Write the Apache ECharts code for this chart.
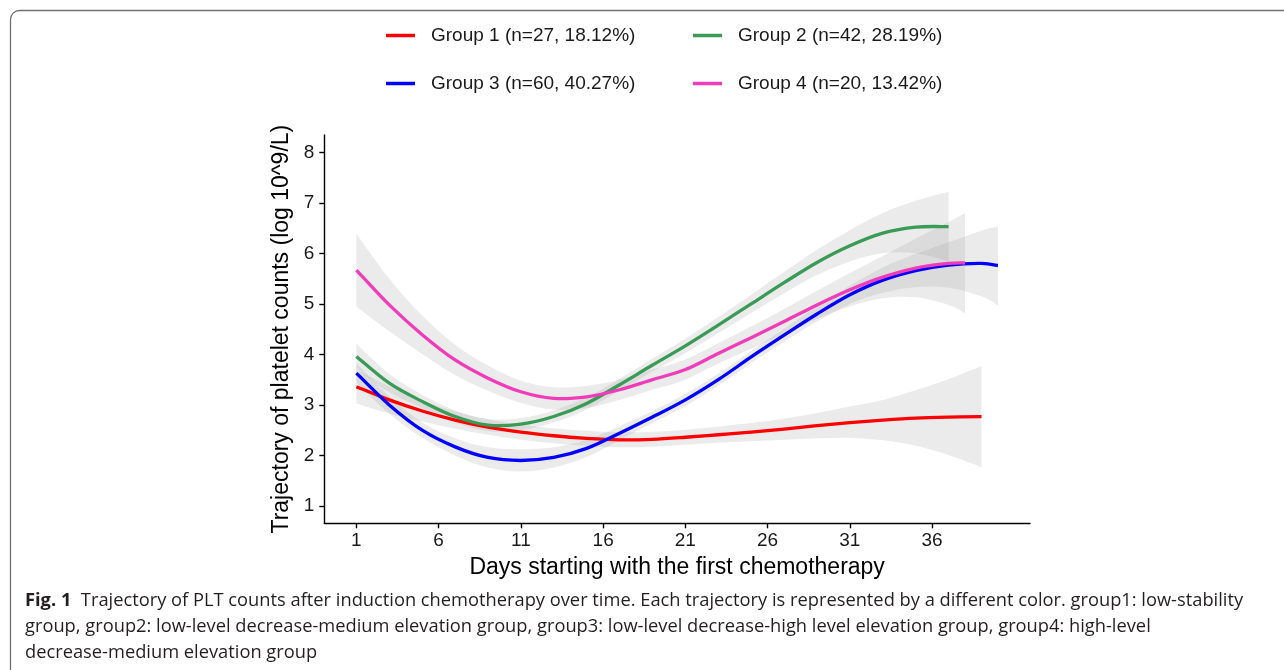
<!DOCTYPE html>
<html><head><meta charset="utf-8">
<script src="https://cdn.jsdelivr.net/npm/echarts@6/dist/echarts.min.js"></script>
<style>html,body{margin:0;padding:0;background:#fff}#c{width:1284px;height:670px}</style>
</head><body><div id="c"></div><script>
// ---------- data ----------
const groupNames = ['Group 1 (n=27, 18.12%)','Group 2 (n=42, 28.19%)','Group 3 (n=60, 40.27%)','Group 4 (n=20, 13.42%)'];

const daysG1  = [1,3,5,7,9,11,13,15,17,19,21,23,25,27,29,31,33,35,37,39];
const fitG1   = [3.36,3.10,2.88,2.70,2.56,2.46,2.39,2.34,2.31,2.32,2.36,2.41,2.46,2.52,2.59,2.65,2.70,2.74,2.76,2.77];
const upperG1 = [3.69,3.37,3.09,2.87,2.71,2.61,2.54,2.49,2.46,2.47,2.51,2.57,2.64,2.73,2.84,2.97,3.10,3.29,3.51,3.77];
const lowerG1 = [3.03,2.83,2.67,2.53,2.41,2.31,2.24,2.19,2.16,2.17,2.21,2.25,2.28,2.31,2.34,2.35,2.30,2.19,2.01,1.77];

const daysG2  = [1,3,5,7,9,11,13,15,17,19,21,23,25,27,29,31,33,35,37];
const fitG2   = [3.96,3.43,3.07,2.77,2.60,2.62,2.77,3.03,3.40,3.79,4.17,4.58,5.00,5.42,5.82,6.15,6.40,6.52,6.53];
const upperG2 = [4.21,3.61,3.20,2.89,2.72,2.74,2.89,3.15,3.52,3.92,4.31,4.74,5.18,5.63,6.07,6.46,6.80,7.04,7.22];
const lowerG2 = [3.71,3.25,2.94,2.65,2.48,2.50,2.65,2.91,3.28,3.66,4.03,4.42,4.82,5.21,5.57,5.84,6.00,6.00,5.84];

const daysG3  = [1,3,5,7,9,11,13,15,17,19,21,23,25,27,29,31,33,35,37,39,40];
const fitG3   = [3.63,3.00,2.50,2.17,1.96,1.90,1.96,2.14,2.44,2.76,3.10,3.50,3.95,4.38,4.80,5.18,5.47,5.66,5.77,5.80,5.76];
const upperG3 = [3.83,3.17,2.65,2.34,2.16,2.12,2.16,2.31,2.58,2.88,3.22,3.62,4.07,4.51,4.95,5.36,5.72,5.99,6.22,6.45,6.53];
const lowerG3 = [3.43,2.83,2.35,2.00,1.76,1.68,1.76,1.97,2.30,2.64,2.98,3.38,3.83,4.25,4.65,5.00,5.22,5.33,5.32,5.15,4.97];

const daysG4  = [1,3,5,7,9,11,13,15,17,19,21,23,25,27,29,31,33,35,37,38];
const fitG4   = [5.67,4.98,4.39,3.89,3.53,3.26,3.13,3.16,3.30,3.50,3.70,4.02,4.33,4.65,4.98,5.28,5.53,5.71,5.80,5.81];
const upperG4 = [6.39,5.50,4.77,4.19,3.78,3.48,3.35,3.38,3.50,3.70,3.90,4.22,4.55,4.90,5.26,5.61,5.95,6.29,6.62,6.80];
const lowerG4 = [4.95,4.46,4.01,3.59,3.28,3.04,2.91,2.94,3.10,3.30,3.50,3.82,4.11,4.40,4.70,4.95,5.11,5.13,4.98,4.82];

const xTickValues = [1,6,11,16,21,26,31,36];
const yTickValues = [1,2,3,4,5,6,7,8];

const xAxisTitle = 'Days starting with the first chemotherapy';
const yAxisTitle = 'Trajectory of platelet counts (log 10^9/L)';
const captionLabel = 'Fig. 1';
const captionLines = [
  'Trajectory of PLT counts after induction chemotherapy over time. Each trajectory is represented by a different color. group1: low-stability',
  'group, group2: low-level decrease-medium elevation group, group3: low-level decrease-high level elevation group, group4: high-level',
  'decrease-medium elevation group'
];

// ---------- styling ----------
const colors = ['#ff0000','#3a9b57','#0000ff','#f03cb9'];
const groups = [
  {days:daysG1, fit:fitG1, up:upperG1, lo:lowerG1},
  {days:daysG2, fit:fitG2, up:upperG2, lo:lowerG2},
  {days:daysG3, fit:fitG3, up:upperG3, lo:lowerG3},
  {days:daysG4, fit:fitG4, up:upperG4, lo:lowerG4}
];
const AX_FONT = 'Liberation Sans, Arial, Helvetica, sans-serif';
const CAP_FONT = '"Open Sans", "Noto Sans", sans-serif';

// smooth spline through the axis-mapped points (drawing only)
function curve(p){
  let d='';
  for(let i=0;i<p.length-1;i++){
    const p0=p[i-1]||p[i], p1=p[i], p2=p[i+1], p3=p[i+2]||p[i+1];
    const c1=[p1[0]+(p2[0]-p0[0])/6, p1[1]+(p2[1]-p0[1])/6];
    const c2=[p2[0]-(p3[0]-p1[0])/6, p2[1]-(p3[1]-p1[1])/6];
    d+=' C'+c1[0]+','+c1[1]+' '+c2[0]+','+c2[1]+' '+p2[0]+','+p2[1];
  }
  return d;
}

const bandSeries = groups.map((g,gi)=>({
  type:'custom',
  name:'band'+gi,
  z:1,
  silent:true,
  data:g.days.map((d,i)=>[d,g.lo[i],g.up[i]]),
  encode:{x:0,y:[1,2]},
  renderItem:function(params,api){
    if(params.dataIndex!==0) return null;
    const top=g.days.map((d,i)=>api.coord([d,g.up[i]]));
    const bot=g.days.map((d,i)=>api.coord([d,g.lo[i]])).reverse();
    const path='M'+top[0][0]+','+top[0][1]+curve(top)+' L'+bot[0][0]+','+bot[0][1]+curve(bot)+' Z';
    return {type:'path', shape:{pathData:path}, style:{fill:'rgba(153,153,153,0.2)', stroke:null}};
  }
}));

const lineSeries = groups.map((g,gi)=>({
  type:'custom',
  name:groupNames[gi],
  z:2,
  silent:true,
  color:colors[gi],
  itemStyle:{color:colors[gi]},
  data:g.days.map((d,i)=>[d,g.fit[i]]),
  encode:{x:0,y:1},
  renderItem:function(params,api){
    if(params.dataIndex!==0) return null;
    const p=g.days.map((d,i)=>api.coord([d,g.fit[i]]));
    return {type:'path', shape:{pathData:'M'+p[0][0]+','+p[0][1]+curve(p)},
      style:{fill:'none', stroke:colors[gi], lineWidth:3.3, lineJoin:'round', lineCap:'butt'}};
  }
}));

const legendPos = [[386,26],[693,26],[386,74],[693,74]];
const legends = groupNames.map((n,i)=>({
  data:[{name:n, itemStyle:{color:colors[i]}}], left:legendPos[i][0], top:legendPos[i][1], padding:0,
  icon:'rect', itemWidth:29, itemHeight:3.5, selectedMode:false,
  textStyle:{fontSize:19, fontFamily:AX_FONT, color:'#1a1a1a', padding:[0,0,0,11]}
}));

const chart = echarts.init(document.getElementById('c'), null, {renderer:'canvas'});
chart.setOption({
  backgroundColor:'#ffffff',
  animation:false,
  legend:legends,
  grid:{left:324.3, top:135, width:705.7, height:388.3, containLabel:false},
  xAxis:{
    type:'value', min:-0.95, max:41.95,
    name:xAxisTitle, nameLocation:'middle', nameGap:33,
    nameTextStyle:{fontSize:23, fontFamily:AX_FONT, color:'#000'},
    axisLine:{show:true, onZero:false, lineStyle:{color:'#000', width:1.4}},
    axisTick:{show:true, length:5, customValues:xTickValues, lineStyle:{color:'#000', width:1.4}},
    axisLabel:{customValues:xTickValues, fontSize:19, fontFamily:AX_FONT, color:'#1a1a1a', margin:8},
    splitLine:{show:false}
  },
  yAxis:{
    type:'value', min:0.657, max:8.343,
    name:yAxisTitle, nameLocation:'middle', nameGap:22,
    nameTextStyle:{fontSize:23, fontFamily:AX_FONT, color:'#000'},
    axisLine:{show:true, onZero:false, lineStyle:{color:'#000', width:1.4}},
    axisTick:{show:true, length:5, customValues:yTickValues, lineStyle:{color:'#000', width:1.4}},
    axisLabel:{customValues:yTickValues, fontSize:19, fontFamily:AX_FONT, color:'#1a1a1a', margin:10},
    splitLine:{show:false}
  },
  graphic:[
    {type:'rect', silent:true, shape:{x:10.5, y:10.5, width:1400, height:900, r:9},
     style:{fill:'none', stroke:'#707070', lineWidth:1.3}},
    {type:'text', x:25, y:601, silent:true,
     style:{text:'{b|'+captionLabel+'}  '+captionLines[0], fontSize:18.3, fontFamily:CAP_FONT, fill:'#231f20', verticalAlign:'middle',
       rich:{b:{fontWeight:'bold', fontSize:18.3, fontFamily:CAP_FONT, fill:'#231f20'}}}},
    {type:'text', x:25, y:627, silent:true,
     style:{text:captionLines[1], fontSize:18.3, fontFamily:CAP_FONT, fill:'#231f20', verticalAlign:'middle'}},
    {type:'text', x:25, y:653, silent:true,
     style:{text:captionLines[2], fontSize:18.3, fontFamily:CAP_FONT, fill:'#231f20', verticalAlign:'middle'}}
  ],
  series:[].concat(bandSeries, lineSeries)
});
</script></body></html>
